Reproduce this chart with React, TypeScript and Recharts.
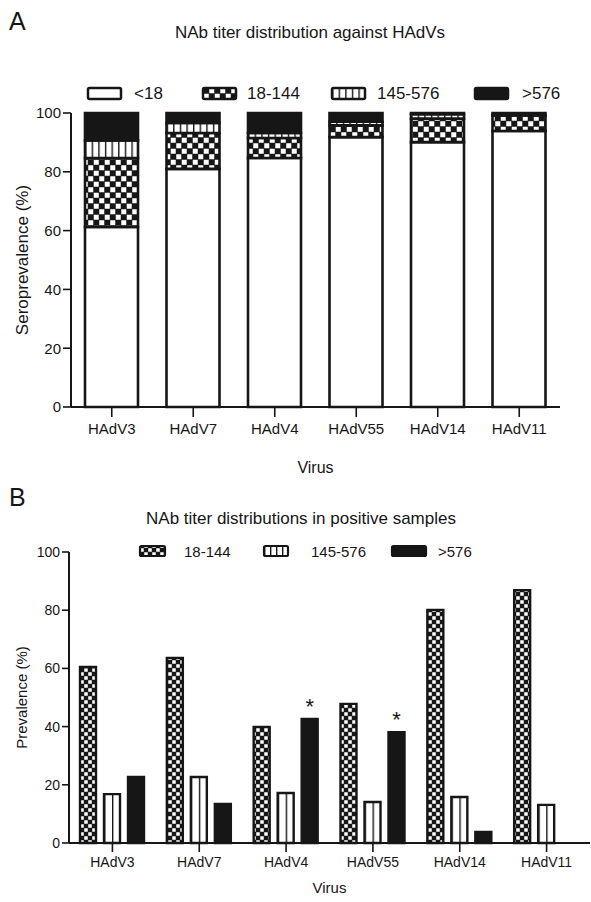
import React from 'react';
import { BarChart, Bar, XAxis, YAxis, LabelList } from 'recharts';

const viruses = ['HAdV3', 'HAdV7', 'HAdV4', 'HAdV55', 'HAdV14', 'HAdV11'];

// panel A: seroprevalence stacks (%)
const seroLow = [61.2, 81.0, 84.7, 91.8, 90.1, 93.9];
const seroMid = [23.5, 12.2, 6.8, 4.0, 8.0, 5.3];
const seroHigh = [6.0, 3.4, 1.7, 1.2, 1.5, 0.8];
const seroTop = [9.3, 3.4, 6.8, 3.0, 0.4, 0];

// panel B: titer distribution among positive samples (%)
const posMid = [60.5, 63.6, 39.9, 47.8, 80.1, 86.9];
const posHigh = [16.8, 22.7, 17.2, 14.1, 15.8, 13.1];
const posTop = [22.7, 13.4, 42.6, 38.1, 3.8, 0];
const significant = [false, false, true, true, false, false];

const yTicks = [0, 20, 40, 60, 80, 100];
const legendA = ['<18', '18-144', '145-576', '>576'];
const legendB = ['18-144', '145-576', '>576'];

const FONT = '"Liberation Sans", Arial, Helvetica, sans-serif';
const INK = '#161616';

const seroData = viruses.map((virus, i) => ({
  virus,
  low: seroLow[i],
  mid: seroMid[i],
  high: seroHigh[i],
  top: seroTop[i],
}));

const posData = viruses.map((virus, i) => ({
  virus,
  mid: posMid[i],
  high: posHigh[i],
  top: posTop[i],
  star: significant[i],
}));

function Checker({ id, size, cell }: { id: string; size: number; cell: number }) {
  const h = size / 2;
  const pad = (h - cell) / 2;
  return (
    <pattern id={id} patternUnits="userSpaceOnUse" width={size} height={size}>
      <rect width={size} height={size} fill={INK} />
      <rect x={pad} y={pad} width={cell} height={cell} fill="#fff" />
      <rect x={h + pad} y={h + pad} width={cell} height={cell} fill="#fff" />
    </pattern>
  );
}

function Stripes({ id, tile }: { id: string; tile: number }) {
  return (
    <pattern id={id} patternUnits="objectBoundingBox" width={tile} height={1}>
      <rect x={0} y={0} width={200} height={2000} fill="#fff" />
      <rect x={0} y={0} width={1.4} height={2000} fill={INK} />
    </pattern>
  );
}

const axisLine = { stroke: INK, strokeWidth: 2 };
const tickLine = { stroke: INK, strokeWidth: 1.6 };

function Star(props: any) {
  const { x, y, width, index } = props;
  if (!posData[index] || !posData[index].star) return null;
  return (
    <text x={x + width / 2} y={y - 5} textAnchor="middle" fontSize={22} fontFamily={FONT} fill={INK}>
      *
    </text>
  );
}

function Overlay() {
  const fillsA = ['#fff', 'url(#la-check)', 'url(#la-stripe)', INK];
  const swA = [88, 203, 332, 475];
  const txA = [134, 247, 377, 522];
  const fillsB = ['url(#lb-check)', 'url(#lb-stripe)', INK];
  const swB = [140, 264, 392];
  const wB = [25, 24, 34];
  const txB = [184, 311, 438];
  return (
    <svg width={591} height={902} style={{ position: 'absolute', left: 0, top: 0, pointerEvents: 'none' }}>
      <defs>
        <Checker id="la-check" size={11} cell={5} />
        <Stripes id="la-stripe" tile={0.2} />
        <Checker id="lb-check" size={8} cell={3.5} />
        <Stripes id="lb-stripe" tile={0.25} />
      </defs>
      <g fontFamily={FONT} fill={INK}>
        <text x={9} y={30} fontSize={25}>A</text>
        <text x={310} y={38} fontSize={17} textAnchor="middle">NAb titer distribution against HAdVs</text>
        {legendA.map((name, i) => (
          <g key={name}>
            <rect x={swA[i]} y={88} width={33} height={11} rx={1.5} fill={fillsA[i]} stroke={INK} strokeWidth={2.5} />
            <text x={txA[i]} y={99} fontSize={17}>{name}</text>
          </g>
        ))}
        <text x={9} y={506} fontSize={25}>B</text>
        <text x={301} y={524} fontSize={17} textAnchor="middle">NAb titer distributions in positive samples</text>
        {legendB.map((name, i) => (
          <g key={name}>
            <rect x={swB[i]} y={546} width={wB[i]} height={10} rx={1.5} fill={fillsB[i]} stroke={INK} strokeWidth={2.2} />
            <text x={txB[i]} y={557} fontSize={15}>{name}</text>
          </g>
        ))}
      </g>
    </svg>
  );
}

export default function App() {
  return (
    <div style={{ position: 'absolute', left: 0, top: 0, width: 591, height: 902, background: '#fff', fontFamily: FONT }}>
      <div style={{ position: 'absolute', left: 0, top: 0 }}>
        <BarChart width={591} height={480} data={seroData} margin={{ top: 113, right: 31, bottom: 3, left: 11 }} barSize={53}>
          <defs>
            <Checker id="a-check" size={11} cell={5} />
            <Stripes id="a-stripe" tile={0.125} />
          </defs>
          <XAxis
            dataKey="virus"
            height={70}
            axisLine={axisLine}
            tickLine={tickLine}
            tickSize={10}
            tickMargin={6}
            interval={0}
            tick={{ fill: INK, fontSize: 15, fontFamily: FONT }}
            label={{ value: 'Virus', position: 'insideBottom', offset: 4, fill: INK, fontSize: 16, fontFamily: FONT }}
          />
          <YAxis
            type="number"
            domain={[0, 100]}
            ticks={yTicks}
            interval={0}
            width={60}
            axisLine={axisLine}
            tickLine={tickLine}
            tickSize={8}
            tickMargin={2}
            tick={{ fill: INK, fontSize: 15, fontFamily: FONT }}
            label={{ value: 'Seroprevalence (%)', angle: -90, position: 'insideLeft', offset: 11, fill: INK, fontSize: 17, fontFamily: FONT, style: { textAnchor: 'middle' } }}
          />
          <Bar dataKey="low" stackId="s" fill="#fff" stroke={INK} strokeWidth={2.6} isAnimationActive={false} />
          <Bar dataKey="mid" stackId="s" fill="url(#a-check)" stroke={INK} strokeWidth={2.6} isAnimationActive={false} />
          <Bar dataKey="high" stackId="s" fill="url(#a-stripe)" stroke={INK} strokeWidth={2.6} isAnimationActive={false} />
          <Bar dataKey="top" stackId="s" fill={INK} stroke={INK} strokeWidth={2.6} isAnimationActive={false} />
        </BarChart>
      </div>
      <div style={{ position: 'absolute', left: 0, top: 480 }}>
        <BarChart width={591} height={422} data={posData} margin={{ top: 72, right: 1, bottom: 4, left: 11 }} barSize={16} barGap={8}>
          <defs>
            <Checker id="b-check" size={8} cell={3.5} />
            <Stripes id="b-stripe" tile={0.5} />
          </defs>
          <XAxis
            dataKey="virus"
            height={55}
            axisLine={axisLine}
            tickLine={tickLine}
            tickSize={9}
            tickMargin={5}
            interval={0}
            tick={{ fill: INK, fontSize: 14, fontFamily: FONT }}
            label={{ value: 'Virus', position: 'insideBottom', offset: 5, fill: INK, fontSize: 15, fontFamily: FONT }}
          />
          <YAxis
            type="number"
            domain={[0, 100]}
            ticks={yTicks}
            interval={0}
            width={58}
            axisLine={axisLine}
            tickLine={tickLine}
            tickSize={7}
            tickMargin={2}
            tick={{ fill: INK, fontSize: 14, fontFamily: FONT }}
            label={{ value: 'Prevalence (%)', angle: -90, position: 'insideLeft', offset: 11, fill: INK, fontSize: 15, fontFamily: FONT, style: { textAnchor: 'middle' } }}
          />
          <Bar dataKey="mid" fill="url(#b-check)" stroke={INK} strokeWidth={2.4} isAnimationActive={false} />
          <Bar dataKey="high" fill="url(#b-stripe)" stroke={INK} strokeWidth={2.4} isAnimationActive={false} />
          <Bar dataKey="top" fill={INK} stroke={INK} strokeWidth={2.4} isAnimationActive={false}>
            <LabelList dataKey="top" content={Star} />
          </Bar>
        </BarChart>
      </div>
      <Overlay />
    </div>
  );
}
